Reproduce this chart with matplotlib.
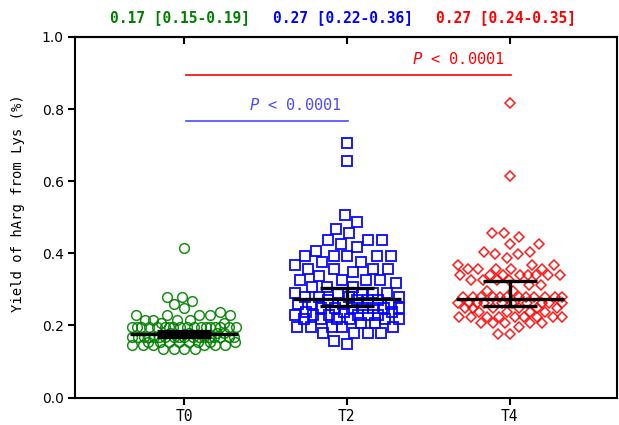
import numpy as np
import matplotlib
matplotlib.use("Agg")
import matplotlib.pyplot as plt
from matplotlib.transforms import blended_transform_factory

# ---------------- data ----------------
categories = ["T0", "T2", "T4"]

t0_values = ([0.415] + [0.279] * 2 + [0.267, 0.259, 0.248, 0.237] + [0.229] * 5 +
             [0.215] * 4 + [0.206] * 2 + [0.196] * 18 + [0.180] * 4 + [0.168] * 18 +
             [0.155] * 8 + [0.145] * 6 + [0.135] * 4)

t2_values = ([0.706, 0.656, 0.506, 0.487, 0.467, 0.456] + [0.437] * 3 +
             [0.426, 0.417, 0.406] + [0.392] * 5 + [0.376] * 2 + [0.368] +
             [0.356] * 4 + [0.348, 0.337] + [0.326] * 4 + [0.318] + [0.307] * 3 +
             [0.290] * 5 + [0.280] * 4 + [0.270] * 4 + [0.260] * 4 + [0.248] * 7 +
             [0.237] * 3 + [0.229] * 6 + [0.218] * 6 + [0.207] * 2 + [0.196] * 5 +
             [0.179] * 4 + [0.157, 0.148])

t4_values = ([0.817, 0.614] + [0.456] * 2 + [0.445] + [0.426] * 2 + [0.404] * 2 +
             [0.398] * 2 + [0.387] + [0.368] * 3 + [0.356] * 5 + [0.340] * 8 +
             [0.326] * 4 + [0.312] * 2 + [0.295] * 2 + [0.280] * 12 + [0.262] * 10 +
             [0.248] * 6 + [0.237] * 4 + [0.223] * 9 + [0.207] * 5 + [0.196] +
             [0.176] * 2)

medians = [0.176, 0.273, 0.273]
ci_low = [0.167, 0.255, 0.255]
ci_high = [0.185, 0.305, 0.323]

summary_labels = ["0.17 [0.15-0.19]", "0.27 [0.22-0.36]", "0.27 [0.24-0.35]"]
p_labels = ["P < 0.0001", "P < 0.0001"]
p_pairs = [(0, 1), (0, 2)]
p_heights = [0.768, 0.895]

colors = ["#008000", "#0000ff", "#ff0000"]
markers = ["o", "s", "D"]

# ---------------- figure ----------------
W, H = 619, 425
fig = plt.figure(figsize=(W / 100, H / 100), dpi=100)
ax_left, ax_right, ax_top, ax_bot = 75, 617, 37, 397.5
ax = fig.add_axes([ax_left / W, 1 - ax_bot / H, (ax_right - ax_left) / W, (ax_bot - ax_top) / H])

xmin, xmax = -0.67, 2.66
ax.set_xlim(xmin, xmax)
ax.set_ylim(0, 1.0)
px_x = (ax_right - ax_left) / (xmax - xmin)   # pixels per x unit
px_y = (ax_bot - ax_top) / 1.0                # pixels per y unit


def swarm(vals, D, L):
    """Beeswarm offsets (in x data units) limited to +-L pixels."""
    y = np.asarray(vals, dtype=float) * px_y
    order = np.argsort(y, kind="stable")
    px, py = [], []
    xs = np.zeros(len(y))
    grid = np.arange(-L, L + 0.01, 0.5)
    for k, i in enumerate(order):
        yi = y[i]
        cands = [0.0]
        for xj, yj in zip(px, py):
            dy = abs(yi - yj)
            if dy < D:
                dx = np.sqrt(D * D - dy * dy)
                cands += [xj + dx, xj - dx]
        cands = [c for c in cands if abs(c) <= L]
        sgn = 1 if k % 2 else -1
        cands.sort(key=lambda c: (round(abs(c), 4), sgn * c))
        chosen = None
        pxa, pya = np.array(px), np.array(py)
        for c in cands:
            if len(px) == 0 or np.all((c - pxa) ** 2 + (yi - pya) ** 2 >= D * D - 1e-6):
                chosen = c
                break
        if chosen is None:
            d2 = ((grid[:, None] - pxa[None, :]) ** 2 + (yi - pya[None, :]) ** 2).min(axis=1)
            score = d2 - 1e-4 * np.abs(grid)
            chosen = grid[np.argmax(score)]
        xs[i] = chosen
        px.append(chosen)
        py.append(yi)
    return xs / px_x


groups = [t0_values, t2_values, t4_values]
sizes = [7.0, 6.9, 5.0]
mews = [1.1, 1.4, 1.1]
Ds = [10.5, 13.5, 12.0]
for i, vals in enumerate(groups):
    offs = swarm(vals, Ds[i], 52.0)
    ax.plot(i + offs, vals, linestyle="none", marker=markers[i], ms=sizes[i],
            mfc="none", mec=colors[i], mew=mews[i], zorder=2, alpha=0.9)

# median and CI bars
half_w = 54 / px_x
cap_w = 27 / px_x
for i in range(3):
    ax.plot([i - half_w, i + half_w], [medians[i]] * 2, color="black", lw=2.4, zorder=4,
            solid_capstyle="butt")
    ax.plot([i - cap_w, i + cap_w], [ci_low[i]] * 2, color="black", lw=2.4, zorder=4,
            solid_capstyle="butt")
    ax.plot([i - cap_w, i + cap_w], [ci_high[i]] * 2, color="black", lw=2.4, zorder=4,
            solid_capstyle="butt")
    ax.plot([i, i], [ci_low[i], ci_high[i]], color="black", lw=2.4, zorder=4)

# P-value lines
p_colors = ["#4a4aff", "#ff0000"]
mono = "DejaVu Sans Mono"
for (a, b), h, lab, c in zip(p_pairs, p_heights, p_labels, p_colors):
    ax.plot([a + 0.01, b + 0.01], [h, h], color=c, lw=1.2, zorder=3)
    ax.text(b - 0.03, h + 0.022, r"$\mathit{P}$" + lab[1:], color=c, ha="right", va="bottom",
            fontsize=11, family=mono)

# summary text above axes
trans = blended_transform_factory(ax.transData, ax.transAxes)
for i, (lab, c) in enumerate(zip(summary_labels, colors)):
    ax.text(i - 0.025, 1.055, lab, transform=trans, color=c, ha="center", va="center",
            fontsize=10.5, family=mono, fontweight="bold")

# axes styling
for s in ax.spines.values():
    s.set_linewidth(1.5)
ax.set_yticks(np.arange(0, 1.01, 0.2))
ax.set_yticklabels([f"{v:.1f}" for v in np.arange(0, 1.01, 0.2)], fontsize=10)
ax.set_xticks(range(3))
ax.set_xticklabels(categories, fontsize=10.5, family=mono)
ax.tick_params(axis="y", direction="out", length=5, width=1.5, pad=3)
ax.tick_params(axis="x", direction="out", length=5, width=1.5, pad=3)
sec = ax.secondary_xaxis("top")
sec.set_xticks(range(3))
sec.set_xticklabels([])
sec.tick_params(direction="in", length=5, width=1.5)
sec.spines["top"].set_linewidth(1.5)

ax.set_ylabel("Yield of hArg from Lys (%)", fontsize=10, family=mono)
ax.yaxis.set_label_coords(-0.093, 0.54)

fig.savefig("out.png", dpi=100)
